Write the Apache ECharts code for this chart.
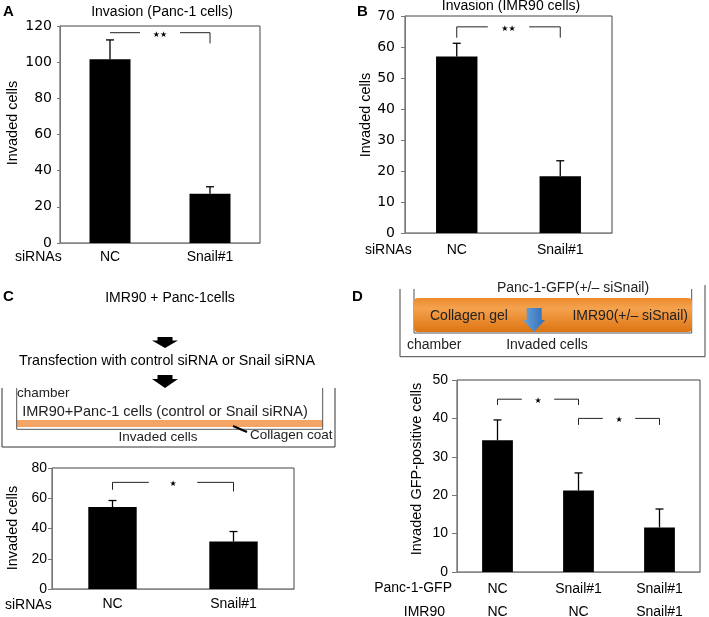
<!DOCTYPE html>
<html>
<head>
<meta charset="utf-8">
<script src="https://cdn.jsdelivr.net/npm/echarts@6/dist/echarts.min.js"></script>
<style>
html,body{margin:0;padding:0;background:#fff;}
#chart{width:709px;height:617px;}
</style>
</head>
<body>
<div id="chart"></div>
<script>
// ---------- data ----------
const siCats = ['NC', 'Snail#1'];
const aMeans = [101.6, 27.3];
const aUpper = [112.3, 31.1];
const bMeans = [56.9, 18.3];
const bUpper = [61.2, 23.3];
const cMeans = [54.2, 31.4];
const cUpper = [58.5, 38.0];
const dPanc = ['NC', 'Snail#1', 'Snail#1'];
const dImr = ['NC', 'NC', 'Snail#1'];
const dMeans = [34.3, 21.2, 11.6];
const dUpper = [39.6, 25.8, 16.4];
// brackets: [leftCat, rightCat, level, leftEnd, rightEnd, stars]
const aBrackets = [[0, 1, 116.3, 116.3, 110.4, 2]];
const bBrackets = [[0, 1, 66.5, 63.0, 63.0, 2]];
const cBrackets = [[0, 1, 70.5, 65.6, 64.5, 1]];
const dBrackets = [[0, 1, 45.0, 43.5, 43.5, 1], [1, 2, 40.0, 38.3, 38.3, 1]];
// axis ranges / ticks
const aAxis = {max: 120, interval: 20};
const bAxis = {max: 70, interval: 10};
const cAxis = {max: 80, interval: 20};
const dAxis = {max: 50, interval: 10};

// ---------- helpers ----------
const SANS = 'Liberation Sans, Arial, sans-serif';
const DJ = 'DejaVu Sans, sans-serif';

function errData(means, upper) { return means.map((m, i) => [i, m, upper[i]]); }

function renderErr(params, api) {
  const x = api.value(0), m = api.value(1), u = api.value(2);
  const p0 = api.coord([x, m]), p1 = api.coord([x, u]);
  const st = {stroke: '#000', lineWidth: 1.3};
  return {type: 'group', children: [
    {type: 'line', shape: {x1: p0[0], y1: p0[1], x2: p1[0], y2: p1[1]}, style: st},
    {type: 'line', shape: {x1: p1[0] - 4, y1: p1[1], x2: p1[0] + 4, y2: p1[1]}, style: st}
  ]};
}

function renderBracket(params, api) {
  const l = api.value(0), r = api.value(1), lev = api.value(2), le = api.value(3), re = api.value(4), n = api.value(5);
  const pl = api.coord([l, lev]), pr = api.coord([r, lev]);
  const pld = api.coord([l, le]), prd = api.coord([r, re]);
  const mid = (pl[0] + pr[0]) / 2, gap = (pr[0] - pl[0]) * 0.2;
  const st = {stroke: '#222', lineWidth: 1, fill: null};
  return {type: 'group', children: [
    {type: 'polyline', shape: {points: [[pld[0], pld[1]], [pl[0], pl[1]], [mid - gap, pl[1]]]}, style: st},
    {type: 'polyline', shape: {points: [[mid + gap, pr[1]], [pr[0], pr[1]], [prd[0], prd[1]]]}, style: st},
    {type: 'text', x: mid, y: pl[1] + 2, style: {text: '★'.repeat(n), fontSize: 8, fill: '#000', align: 'center', verticalAlign: 'middle', fontFamily: DJ}}
  ]};
}

function gridDef(left, top, width, height) {
  return {left, top, width, height, containLabel: false, outerBoundsMode: 'none', show: true, borderColor: '#444', borderWidth: 1, backgroundColor: 'transparent'};
}

function xAx(idx, data, margin, extra) {
  return Object.assign({
    type: 'category', gridIndex: idx, data,
    axisLine: {show: true, lineStyle: {color: '#888', width: 1}},
    axisTick: {show: false},
    axisLabel: {fontSize: 14, color: '#000', fontFamily: SANS, margin, interval: 0}
  }, extra || {});
}

function yAx(idx, ax, font, fontSize, margin, tickLen) {
  return {
    type: 'value', gridIndex: idx, min: 0, max: ax.max, interval: ax.interval,
    axisLine: {show: true, lineStyle: {color: '#777', width: 1}},
    axisTick: {show: true, inside: false, length: tickLen, lineStyle: {color: '#777'}},
    splitLine: {show: false},
    axisLabel: {fontSize, color: '#000', fontFamily: font, margin}
  };
}

function bars(idx, data, width) {
  return {type: 'bar', xAxisIndex: idx, yAxisIndex: idx, data, barWidth: width, itemStyle: {color: '#000'}, silent: true, animation: false};
}
function errs(idx, means, upper) {
  return {type: 'custom', xAxisIndex: idx, yAxisIndex: idx, data: errData(means, upper), renderItem: renderErr, encode: {x: 0, y: [1, 2]}, z: 5, silent: true, animation: false};
}
function brk(idx, data) {
  return {type: 'custom', xAxisIndex: idx, yAxisIndex: idx, data, renderItem: renderBracket, encode: {x: [0, 1], y: [2, 3, 4]}, z: 6, silent: true, animation: false};
}

function txt(x, y, text, size, opts) {
  return {type: 'text', x, y, silent: true, style: Object.assign({text, fontSize: size, fontFamily: SANS, fill: '#000', align: 'left', verticalAlign: 'middle'}, opts || {})};
}
function vtxt(x, y, text, size) {
  return {type: 'text', x, y, rotation: Math.PI / 2, silent: true, style: {text, fontSize: size, fontFamily: SANS, fill: '#000', align: 'center', verticalAlign: 'middle'}};
}
function line(pts, color, w) {
  return {type: 'polyline', silent: true, shape: {points: pts}, style: {stroke: color || '#333', lineWidth: w || 1, fill: null}};
}
function blockArrow(cx, top, bottom, shaftW, headW, shaftH) {
  const sb = top + shaftH;
  return {type: 'polygon', silent: true, shape: {points: [
    [cx - shaftW / 2, top], [cx + shaftW / 2, top], [cx + shaftW / 2, sb], [cx + headW / 2, sb],
    [cx, bottom], [cx - headW / 2, sb], [cx - shaftW / 2, sb]]}, style: {fill: '#000'}};
}

const graphics = [
  // panel letters
  txt(3, 12, 'A', 15, {fontWeight: 'bold'}),
  txt(357, 12, 'B', 15, {fontWeight: 'bold'}),
  txt(3, 297, 'C', 15, {fontWeight: 'bold'}),
  txt(352, 297, 'D', 15, {fontWeight: 'bold'}),
  // titles
  txt(162, 12, 'Invasion (Panc-1 cells)', 14, {align: 'center'}),
  txt(511, 6, 'Invasion (IMR90 cells)', 14, {align: 'center'}),
  // axis names
  vtxt(13, 123, 'Invaded cells', 14.5),
  vtxt(366, 115, 'Invaded cells', 14.5),
  vtxt(13, 528, 'Invaded cells', 14.5),
  vtxt(417, 469, 'Invaded GFP-positive cells', 14.5),
  // row labels
  txt(15, 257, 'siRNAs', 14),
  txt(365, 250, 'siRNAs', 14),
  txt(5, 605, 'siRNAs', 14),
  txt(452, 588, 'Panc-1-GFP', 14, {align: 'right'}),
  txt(445, 612, 'IMR90', 14, {align: 'right'}),

  // ---- panel C schematic ----
  txt(170, 298, 'IMR90 + Panc-1cells', 14, {align: 'center'}),
  blockArrow(165, 337, 348, 15, 26, 3.5),
  txt(167, 361, 'Transfection with control siRNA or Snail siRNA', 14.3, {align: 'center'}),
  blockArrow(165, 375, 388, 15, 26, 4),
  line([[2, 388], [2, 447], [335, 447], [335, 388]], '#333', 1),
  {type: 'rect', silent: true, shape: {x: 16.7, y: 420, width: 306, height: 7}, style: {fill: '#f2a566'}},
  line([[16.7, 388], [16.7, 429.3], [322.7, 429.3], [322.7, 388]], '#555', 1),
  txt(17, 393, 'chamber', 13.5, {fill: '#222'}),
  txt(165, 412, 'IMR90+Panc-1 cells (control or Snail siRNA)', 14.5, {align: 'center', fill: '#222'}),
  txt(158, 437, 'Invaded cells', 13.5, {align: 'center', fill: '#222'}),
  line([[233, 426], [247, 432]], '#000', 2),
  txt(250, 435, 'Collagen coat', 13.5, {fill: '#222'}),

  // ---- panel D schematic ----
  txt(573, 288.5, 'Panc-1-GFP(+/\u2013 siSnail)', 14, {align: 'center', fill: '#222'}),
  line([[400, 289], [400, 356.7], [705, 356.7], [705, 285]], '#444', 1),
  line([[414, 289], [414, 333], [691.7, 333], [691.7, 289]], '#555', 1),
  {type: 'rect', silent: true, shape: {x: 414, y: 298, width: 278, height: 34, r: 4},
    style: {fill: {type: 'linear', x: 0, y: 0, x2: 0, y2: 1, colorStops: [
      {offset: 0, color: '#ec8a2c'}, {offset: 0.3, color: '#f5a24e'}, {offset: 1, color: '#dd7412'}]}}},
  {type: 'polygon', silent: true, shape: {points: [[526.7, 308], [541.7, 308], [541.7, 320], [545, 320], [534, 332], [523, 320], [526.7, 320]]},
    style: {fill: {type: 'linear', x: 0, y: 0, x2: 1, y2: 0, colorStops: [{offset: 0, color: '#6aa3dc'}, {offset: 1, color: '#2f6db5'}]}}},
  txt(430, 316, 'Collagen gel', 14, {fill: '#222'}),
  txt(688, 316, 'IMR90(+/\u2013 siSnail)', 14, {align: 'right', fill: '#222'}),
  txt(407, 345, 'chamber', 14, {fill: '#222'}),
  txt(547, 345, 'Invaded cells', 14, {align: 'center', fill: '#222'})
];

const chart = echarts.init(document.getElementById('chart'), null, {renderer: 'canvas'});
chart.setOption({
  animation: false,
  backgroundColor: '#fff',
  grid: [
    gridDef(60, 26, 200, 217),
    gridDef(405, 16, 207, 217),
    gridDef(52, 468, 242, 121),
    gridDef(457, 380, 243, 192)
  ],
  xAxis: [
    xAx(0, siCats, 7),
    xAx(1, siCats, 10),
    xAx(2, siCats, 8),
    xAx(3, dPanc.map((p, i) => p + '\n' + dImr[i]), 5, {axisLabel: {fontSize: 14, color: '#000', fontFamily: SANS, margin: 5, lineHeight: 23.5, interval: 0}})
  ],
  yAxis: [
    yAx(0, aAxis, DJ, 14, 8, 3),
    yAx(1, bAxis, DJ, 14, 10, 4),
    yAx(2, cAxis, SANS, 14, 5, 4),
    yAx(3, dAxis, SANS, 14, 9, 5)
  ],
  series: [
    bars(0, aMeans, '41%'), errs(0, aMeans, aUpper), brk(0, aBrackets),
    bars(1, bMeans, '40%'), errs(1, bMeans, bUpper), brk(1, bBrackets),
    bars(2, cMeans, '40%'), errs(2, cMeans, cUpper), brk(2, cBrackets),
    bars(3, dMeans, '38%'), errs(3, dMeans, dUpper), brk(3, dBrackets)
  ],
  graphic: {elements: graphics}
});
</script>
</body>
</html>
